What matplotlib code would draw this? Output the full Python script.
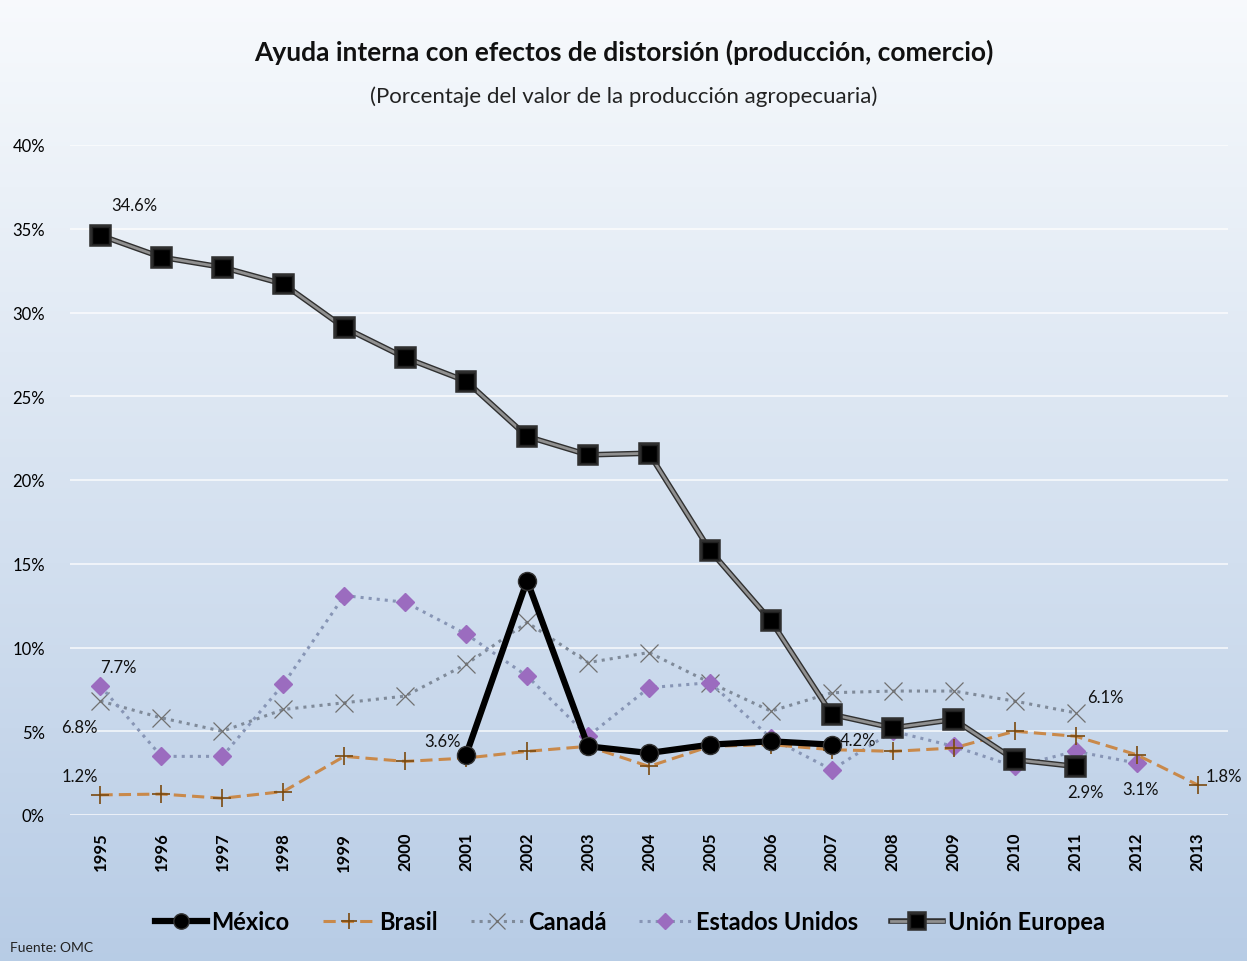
import matplotlib
matplotlib.use("Agg")
import matplotlib.pyplot as plt
import matplotlib.patheffects as pe
import numpy as np

plt.rcParams['font.family'] = ['Lato', 'DejaVu Sans']

years = list(range(1995, 2014))

mexico_years = [2001, 2002, 2003, 2004, 2005, 2006, 2007]
mexico = [3.6, 14.0, 4.1, 3.7, 4.2, 4.4, 4.2]

brasil = [1.2, 1.25, 1.0, 1.4, 3.5, 3.2, 3.4, 3.8, 4.1, 2.9, 4.1, 4.2, 3.9,
          3.8, 4.0, 5.0, 4.7, 3.6, 1.8]

canada_years = list(range(1995, 2012))
canada = [6.8, 5.8, 5.0, 6.3, 6.7, 7.1, 9.0, 11.5, 9.1, 9.7, 7.9, 6.2, 7.3,
          7.4, 7.4, 6.8, 6.1]

eeuu_years = list(range(1995, 2013))
eeuu = [7.7, 3.5, 3.5, 7.8, 13.1, 12.7, 10.8, 8.3, 4.7, 7.6, 7.9, 4.6, 2.7,
        5.0, 4.1, 2.9, 3.8, 3.1]

ue_years = list(range(1995, 2012))
ue = [34.6, 33.3, 32.7, 31.7, 29.1, 27.3, 25.9, 22.6, 21.5, 21.6, 15.8, 11.6,
      6.0, 5.2, 5.7, 3.3, 2.9]

fig = plt.figure(figsize=(12.47, 9.62), dpi=100)

# background gradient over the whole figure
bg = fig.add_axes([0, 0, 1, 1], zorder=-10)
grad = np.linspace(0, 1, 256).reshape(-1, 1)
top_c = np.array([0.97, 0.98, 0.99])
bot_c = np.array([0.72, 0.80, 0.90])
img = top_c * (1 - grad[..., None]) + bot_c * grad[..., None]
img = np.repeat(img, 2, axis=1)
bg.imshow(img, aspect='auto', extent=[0, 1, 0, 1])
bg.axis('off')

ax = fig.add_axes([70 / 1247, 1 - 816 / 962, (1228 - 70) / 1247, (816 - 146) / 962])
ax.set_facecolor('none')
ax.set_xlim(1994.5, 2013.5)
ax.set_ylim(0, 40)
ax.set_yticks(range(0, 41, 5))
ax.set_yticklabels([f'{v}%' for v in range(0, 41, 5)], fontsize=12)
ax.set_xticks(years)
ax.set_xticklabels([str(y) for y in years], rotation=90, fontsize=12, fontweight='bold')
ax.tick_params(length=0)
ax.tick_params(axis='y', pad=18)
ax.tick_params(axis='x', pad=12)
ax.grid(axis='y', color='white', linewidth=1.2, alpha=0.8)
for s in ax.spines.values():
    s.set_visible(False)

ax.plot(years, brasil, color='#c9894a', linestyle='--', linewidth=2.2,
        dashes=(4, 2), marker='+', markersize=13, markeredgecolor='#7a4a10',
        markeredgewidth=1.2, label='Brasil', zorder=3)
ax.plot(canada_years, canada, color='#7f8a99', linestyle=':', linewidth=2.2,
        marker='x', markersize=13, markeredgecolor='#707070',
        markeredgewidth=0.9, label='Canadá', zorder=2)
ax.plot(eeuu_years, eeuu, color='#8795b5', linestyle=':', linewidth=2.2,
        marker='D', markersize=9, markerfacecolor='#9b6cbf',
        markeredgecolor='#9b6cbf', label='Estados Unidos', zorder=2)
ax.plot(ue_years, ue, color='#909090', linewidth=2.0, marker='s', markersize=12,
        markerfacecolor='black', markeredgecolor='#202020',
        path_effects=[pe.Stroke(linewidth=4.0, foreground='#303030'), pe.Normal()],
        label='Unión Europea', zorder=4)
ax.plot(mexico_years, mexico, color='black', linewidth=4.5, marker='o',
        markersize=13, markerfacecolor='black', markeredgecolor='#333333',
        label='México', zorder=5)

lab = dict(fontsize=12, color='#111111')
ax.annotate('34.6%', (1995, ue[0]), xytext=(8, 18), textcoords='offset points', **lab)
ax.annotate('7.7%', (1995, eeuu[0]), xytext=(0, 10), textcoords='offset points', **lab)
ax.annotate('6.8%', (1995, canada[0]), xytext=(-28, -22), textcoords='offset points', **lab)
ax.annotate('1.2%', (1995, brasil[0]), xytext=(-28, 10), textcoords='offset points', **lab)
ax.annotate('3.6%', (2001, mexico[0]), xytext=(-30, 6), textcoords='offset points', **lab)
ax.annotate('4.2%', (2007, mexico[-1]), xytext=(6, 0), textcoords='offset points', **lab)
ax.annotate('6.1%', (2011, canada[-1]), xytext=(8, 8), textcoords='offset points', **lab)
ax.annotate('2.9%', (2011, ue[-1]), xytext=(-6, -22), textcoords='offset points', **lab)
ax.annotate('3.1%', (2012, eeuu[-1]), xytext=(-10, -22), textcoords='offset points', **lab)
ax.annotate('1.8%', (2013, brasil[-1]), xytext=(6, 3), textcoords='offset points', **lab)

fig.text(0.5, 1 - 52 / 962, 'Ayuda interna con efectos de distorsión (producción, comercio)',
         ha='center', va='center', fontsize=19, fontweight='bold', color='#111111')
fig.text(0.5, 1 - 97 / 962, '(Porcentaje del valor de la producción agropecuaria)',
         ha='center', va='center', fontsize=16, color='#222222')

handles, labels = ax.get_legend_handles_labels()
order = [labels.index(n) for n in ['México', 'Brasil', 'Canadá', 'Estados Unidos', 'Unión Europea']]
fig.legend([handles[i] for i in order], [labels[i] for i in order],
           loc='center', bbox_to_anchor=(0.505, 1 - 923 / 962), ncol=5,
           frameon=False, prop={'size': 17, 'weight': 'bold'}, handlelength=2.2,
           columnspacing=1.4, handletextpad=0.2, markerscale=0.85)

fig.text(10 / 1247, 1 - 948 / 962, 'Fuente: OMC', fontsize=10, va='center', color='#222222')

fig.savefig('out.png', dpi=100)
